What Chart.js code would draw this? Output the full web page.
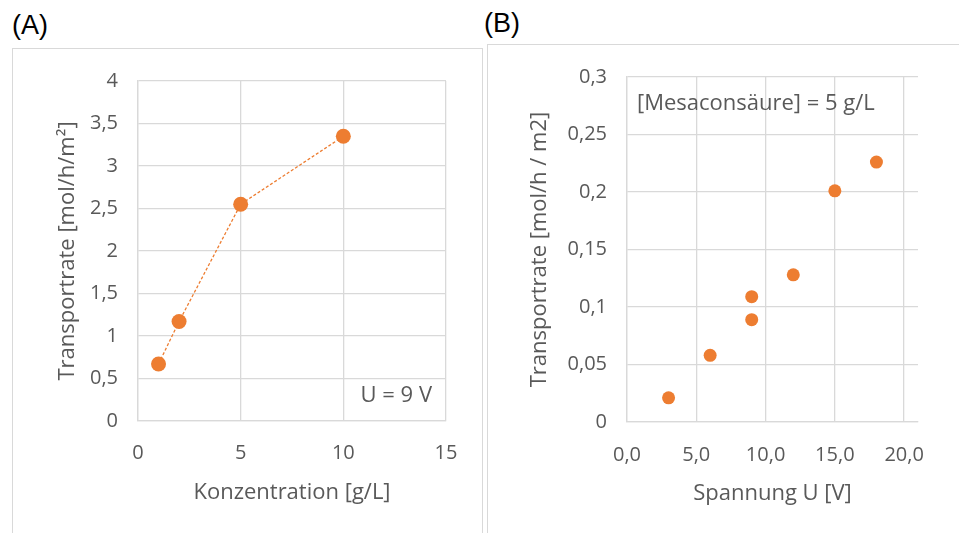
<!DOCTYPE html>
<html>
<head>
<meta charset="utf-8">
<script src="https://cdn.jsdelivr.net/npm/chart.js@4.4.1/dist/chart.umd.min.js"></script>
<style>
  body { margin: 0; background: #fff; width: 959px; height: 533px; overflow: hidden; position: relative; }
  .lbl { position: absolute; font-family: "Liberation Sans", Arial, sans-serif; font-size: 27px; color: #000; }
  .box { position: absolute; border: 1px solid #d9d9d9; }
  canvas { position: absolute; left: 0; top: 0; }
</style>
</head>
<body>
<div class="lbl" style="left:12px;top:10px">(A)</div>
<div class="lbl" style="left:484px;top:8px">(B)</div>
<div class="box" style="left:12px;top:48px;width:469px;height:500px"><canvas id="chartA" width="469" height="485"></canvas></div>
<div class="box" style="left:487px;top:44px;width:480px;height:500px"><canvas id="chartB" width="472" height="489"></canvas></div>
<script>
// (A) Transportrate vs. Konzentration, U = 9 V
const concA = [1, 2, 5, 10];
const rateA = [0.67, 1.17, 2.55, 3.35];

// (B) Transportrate vs. Spannung, Mesaconsäure 5 g/L
const voltB = [3, 6, 9, 9, 12, 15, 18];
const rateB = [0.021, 0.058, 0.109, 0.089, 0.128, 0.201, 0.226];

const orange = "#ED7D31";
const grey = "#595959";
const gridCol = "#d9d9d9";
const fontFam = "'Open Sans', sans-serif";

function comma(v, digits) {
  const s = digits == null ? String(Math.round(v * 1000) / 1000) : v.toFixed(digits);
  return s.replace(".", ",");
}

// text label inside the plot area
const notePlugin = {
  id: "note",
  afterDraw(chart, args, opts) {
    if (!opts.text) return;
    const ctx = chart.ctx;
    const area = chart.chartArea;
    ctx.save();
    ctx.font = "22px " + fontFam;
    ctx.fillStyle = grey;
    ctx.textBaseline = "middle";
    if (opts.corner === "br") {
      ctx.textAlign = "right";
      ctx.fillText(opts.text, area.right - opts.dx, area.bottom - opts.dy);
    } else {
      ctx.textAlign = "left";
      ctx.fillText(opts.text, area.left + opts.dx, area.top + opts.dy);
    }
    ctx.restore();
  }
};

function axisX(min, max, step, title, fmt, height, pad) {
  return {
    type: "linear", min: min, max: max,
    afterFit: (s) => { s.height = height; },
    afterBuildTicks: (s) => {
      const t = [];
      for (let v = min; v <= max + 1e-9; v += step) t.push({ value: v });
      s.ticks = t;
    },
    grid: { color: gridCol, lineWidth: 1.3, drawTicks: false },
    border: { color: gridCol, width: 1.3 },
    ticks: { color: grey, font: { family: fontFam, size: 20 }, padding: pad, callback: fmt, maxRotation: 0 },
    title: { display: true, text: title, color: grey, font: { family: fontFam, size: 22 }, padding: { top: 0, bottom: 0 } }
  };
}

function axisY(min, max, step, title, fmt, width) {
  return {
    type: "linear", min: min, max: max,
    afterFit: (s) => { s.width = width; },
    ticks: { stepSize: step, color: grey, font: { family: fontFam, size: 20 }, padding: 20, callback: fmt },
    grid: { color: gridCol, lineWidth: 1.3, drawTicks: false },
    border: { color: gridCol, width: 1.3 },
    title: { display: true, text: title, color: grey, font: { family: fontFam, size: 22 }, padding: { top: 0, bottom: 0 } }
  };
}

new Chart(document.getElementById("chartA"), {
  type: "scatter",
  data: {
    datasets: [{
      data: concA.map((x, i) => ({ x: x, y: rateA[i] })),
      showLine: true,
      borderColor: orange,
      borderWidth: 1.3,
      borderDash: [3, 2],
      backgroundColor: orange,
      pointBackgroundColor: orange,
      pointBorderWidth: 0,
      pointRadius: 7.5
    }]
  },
  options: {
    responsive: false,
    animation: false,
    layout: { padding: { left: 42, top: 28, right: 36, bottom: 28 } },
    plugins: {
      legend: { display: false },
      tooltip: { enabled: false },
      note: { text: "U = 9 V", corner: "br", dx: 14, dy: 25 }
    },
    scales: {
      x: axisX(0, 15, 5, "Konzentration [g/L]", (v) => comma(v), 85, 20),
      y: axisY(0, 4, 0.5, "Transportrate [mol/h/m²]", (v) => comma(v), 83)
    }
  },
  plugins: [notePlugin]
});

new Chart(document.getElementById("chartB"), {
  type: "scatter",
  data: {
    datasets: [{
      data: voltB.map((x, i) => ({ x: x, y: rateB[i] })),
      backgroundColor: orange,
      pointBackgroundColor: orange,
      pointBorderWidth: 0,
      pointRadius: 6.5
    }]
  },
  options: {
    responsive: false,
    animation: false,
    layout: { padding: { left: 39, top: 30, right: 42, bottom: 27 } },
    plugins: {
      legend: { display: false },
      tooltip: { enabled: false },
      note: { text: "[Mesaconsäure] = 5 g/L", corner: "tl", dx: 10, dy: 27 }
    },
    scales: {
      x: axisX(0, 21, 5, "Spannung U [V]", (v) => comma(v, 1), 85, 21),
      y: axisY(0, 0.3, 0.05, "Transportrate [mol/h / m2]", (v) => comma(v), 100)
    }
  },
  plugins: [notePlugin]
});
</script>
</body>
</html>
